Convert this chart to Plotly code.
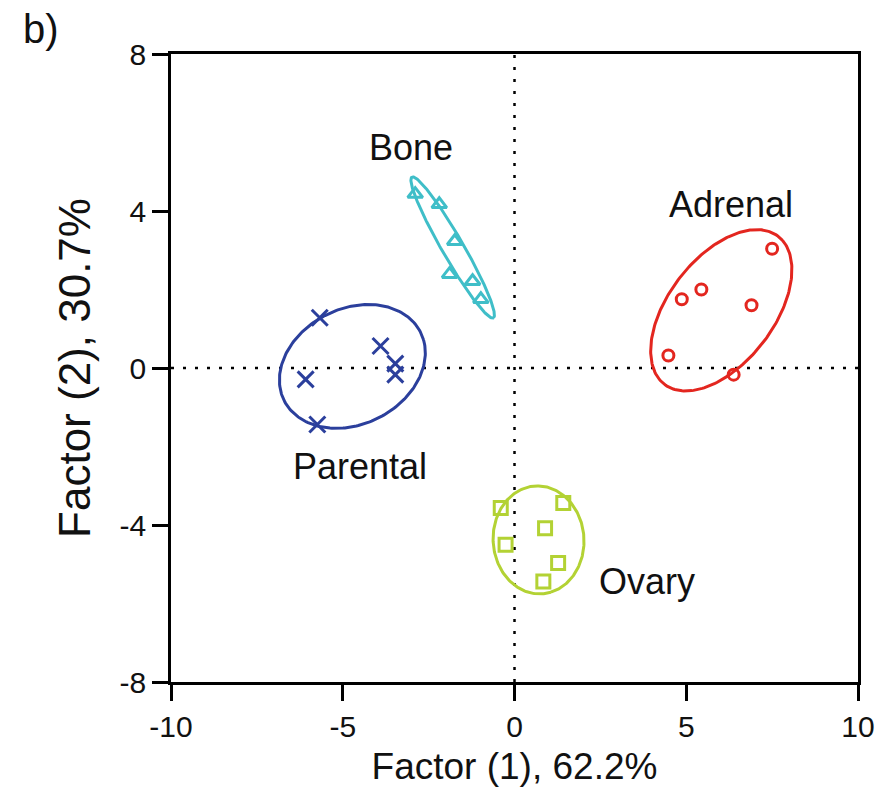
import numpy as np
import plotly.graph_objects as go

# ---- data ----
groups = ["Parental", "Bone", "Adrenal", "Ovary"]
colors = ["#2b3f9c", "#3fbec8", "#e3261f", "#b3d234"]
symbols = ["x-thin-open", "triangle-up-open", "circle-open", "square-open"]
marker_sizes = [16, 13, 11, 13]

parental_x = [-5.67, -3.90, -3.47, -3.47, -6.08, -5.74]
parental_y = [1.28, 0.56, 0.11, -0.17, -0.29, -1.44]
bone_x = [-2.89, -2.19, -1.74, -1.89, -1.22, -0.98]
bone_y = [4.43, 4.17, 3.23, 2.39, 2.21, 1.75]
adrenal_x = [7.50, 5.44, 4.87, 6.90, 4.48, 6.38]
adrenal_y = [3.04, 2.00, 1.75, 1.60, 0.32, -0.17]
ovary_x = [-0.40, 1.42, 0.89, -0.26, 1.27, 0.84]
ovary_y = [-3.57, -3.44, -4.08, -4.50, -4.97, -5.44]

# ellipse params: centre x, centre y, semi-major, semi-minor, angle (deg)
ell_cx = [-4.72, -1.80, 6.02, 0.70]
ell_cy = [0.04, 3.07, 1.47, -4.38]
ell_a = [2.18, 2.15, 2.52, 1.38]
ell_b = [1.50, 0.30, 1.45, 1.32]
ell_ang = [18, -56.4, 45, -75]

label_x = [-4.5, -3.02, 6.3, 3.85]
label_y = [-2.5, 5.62, 4.17, -5.45]

tick_x = [-10, -5, 0, 5, 10]
tick_x_text = ["-10", "-5", "0", "5", "10"]
tick_y = [-8, -4, 0, 4, 8]
tick_y_text = ["-8", "-4", "0", "4", "8"]

xs = [parental_x, bone_x, adrenal_x, ovary_x]
ys = [parental_y, bone_y, adrenal_y, ovary_y]

FONT = "Arial, Liberation Sans, Helvetica, sans-serif"
TXT = "#111111"

fig = go.Figure()

t = np.linspace(0, 2 * np.pi, 240)
for i, g in enumerate(groups):
    th = np.deg2rad(ell_ang[i])
    ex = ell_cx[i] + ell_a[i] * np.cos(t) * np.cos(th) - ell_b[i] * np.sin(t) * np.sin(th)
    ey = ell_cy[i] + ell_a[i] * np.cos(t) * np.sin(th) + ell_b[i] * np.sin(t) * np.cos(th)
    fig.add_trace(go.Scatter(x=ex, y=ey, mode="lines",
                             line=dict(color=colors[i], width=3),
                             showlegend=False, hoverinfo="skip"))
    fig.add_trace(go.Scatter(x=xs[i], y=ys[i], mode="markers", name=g,
                             marker=dict(symbol=symbols[i], size=marker_sizes[i],
                                         color=colors[i],
                                         line=dict(color=colors[i], width=3)),
                             showlegend=False))
    fig.add_annotation(x=label_x[i], y=label_y[i], text=g, showarrow=False,
                       font=dict(family=FONT, size=36, color=TXT))

# dotted zero lines
fig.add_shape(type="line", x0=-10, x1=10, y0=0, y1=0, xref="x", yref="y",
              line=dict(color="black", width=2.5, dash="3px,9px"), layer="below")
fig.add_shape(type="line", x0=0, x1=0, y0=-8, y1=8, xref="x", yref="y",
              line=dict(color="black", width=2.5, dash="3px,9px"), layer="below")

fig.add_annotation(xref="paper", yref="paper", x=-0.218, y=1.078,
                   xanchor="left", yanchor="top", text="b)", showarrow=False,
                   font=dict(family=FONT, size=40, color=TXT))

axis_common = dict(showline=True, linecolor="black", linewidth=2.5, mirror=True,
                   ticks="outside", ticklen=16, tickwidth=2.5, tickcolor="black",
                   showgrid=False, zeroline=False, ticklabeloverflow="allow",
                   tickfont=dict(family=FONT, size=30, color=TXT))

fig.update_xaxes(range=[-10, 10], tickvals=tick_x, ticktext=tick_x_text,
                 title=dict(text="Factor (1), 62.2%", font=dict(family=FONT, size=37, color=TXT),
                            standoff=12), **axis_common)
fig.update_yaxes(range=[-8, 8], tickvals=tick_y, ticktext=tick_y_text,
                 title=dict(text="Factor (2), 30.7%", font=dict(family=FONT, size=44, color=TXT),
                            standoff=16), **axis_common)

fig.update_layout(width=887, height=796, margin=dict(l=171, r=14, t=54, b=114),
                  plot_bgcolor="white", paper_bgcolor="white")

fig.write_html("out.html")
